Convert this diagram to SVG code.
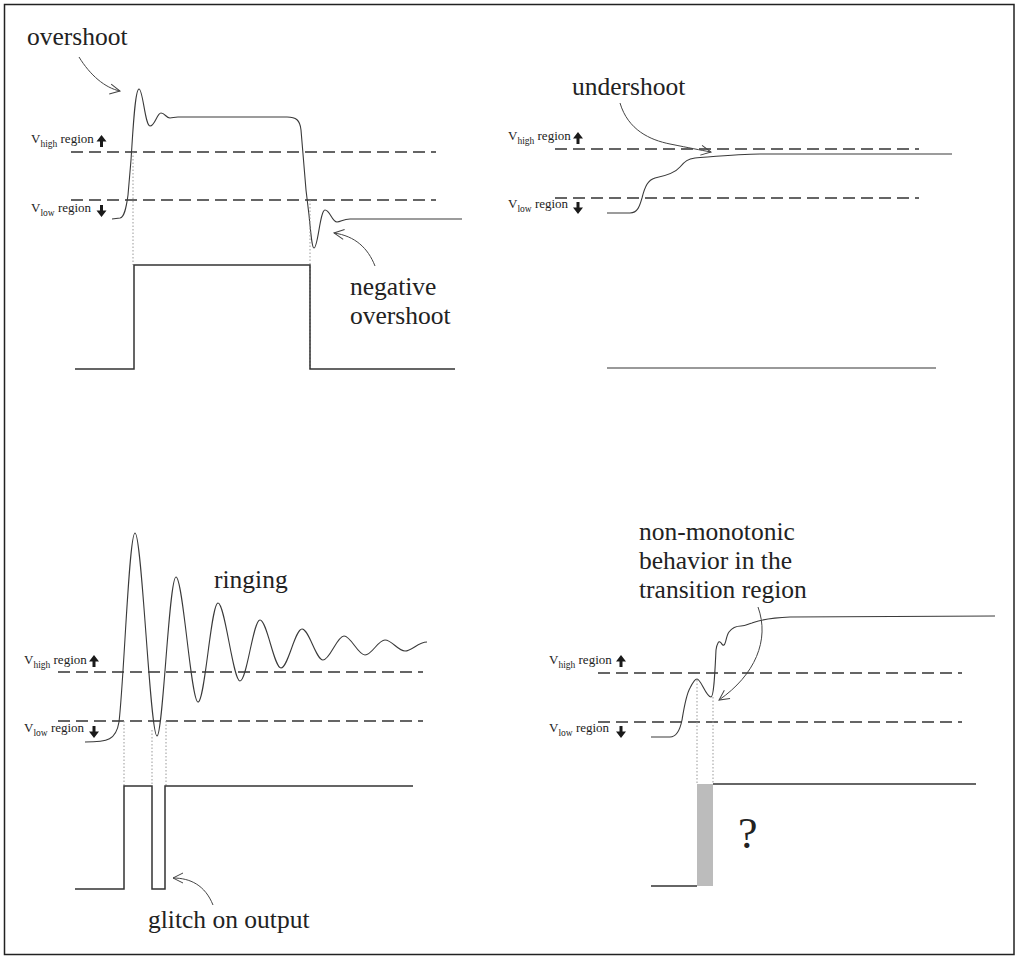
<svg xmlns="http://www.w3.org/2000/svg" width="1018" height="963" viewBox="0 0 1018 963" font-family="Liberation Serif, DejaVu Serif, serif">
<style>
text{font-family:'Liberation Serif','DejaVu Serif',serif;fill:#222}
.big{font-size:25.5px}
.lbl{font-size:13px}
.sub{font-size:9.5px}
.wave{fill:none;stroke:#3a3a3a;stroke-width:1.1}
.pulse{fill:none;stroke:#333;stroke-width:1.5}
.dash{fill:none;stroke:#333;stroke-width:1.3;stroke-dasharray:12 6}
.dot{fill:none;stroke:#999;stroke-width:1;stroke-dasharray:1.5 2}
.ann{fill:none;stroke:#444;stroke-width:1;marker-end:url(#open)}
.ar{fill:#1a1a1a}
</style>
<defs>
<marker id="open" viewBox="-12 -7 14 14" markerWidth="14" markerHeight="14" refX="0" refY="0" orient="auto" markerUnits="userSpaceOnUse">
<path d="M-10,-5 L0,0 L-10,5" fill="none" stroke="#444" stroke-width="1"/>
</marker>
<path id="arrUp" d="M0,0 L5,6.5 L1.5,6.5 L1.5,12 L-1.5,12 L-1.5,6.5 L-5,6.5 Z"/>
<path id="arrDown" d="M0,12 L5,5.5 L1.5,5.5 L1.5,0 L-1.5,0 L-1.5,5.5 L-5,5.5 Z"/>
</defs>
<rect x="4.5" y="4.5" width="1009.5" height="950" fill="#fff" stroke="#222" stroke-width="1.5"/>

<g id="panel-overshoot">
<text class="big" x="27" y="45">overshoot</text>
<text class="big" x="350" y="295">negative</text>
<text class="big" x="350" y="324">overshoot</text>
<text class="lbl" x="31" y="143">V<tspan class="sub" dy="4">high</tspan><tspan dy="-4"> region</tspan></text>
<use href="#arrUp" class="ar" x="101.5" y="135"/>
<text class="lbl" x="31" y="212">V<tspan class="sub" dy="4">low</tspan><tspan dy="-4"> region</tspan></text>
<use href="#arrDown" class="ar" x="101.5" y="205"/>
<line class="dash" x1="71" y1="152" x2="436" y2="152"/>
<line class="dash" x1="71" y1="200" x2="436" y2="200"/>
<path class="wave" d="M112,219 L120,218 C124,217 126,210 128,195 L131,160 C133,130 135,89 139,89 C143,89 145,126 150,126 C155,126 157,113 161,113 C165,113 166,118 170,118 C173,118 174,117 178,117 L287,117 C296,117 300,120 301,130 L306,190 L309,215 C311,235 312,248 314,248 C318,248 320,210 325,210 C330,210 332,222 337,222 C341,222 343,219 350,219 L462,219"/>
<line class="dot" x1="133" y1="152" x2="133" y2="265"/>
<line class="dot" x1="310" y1="200" x2="310" y2="369"/>
<path class="pulse" d="M75,369 L134,369 L134,265 L310,265 L310,369 L455,369"/>
</g>

<g id="panel-undershoot">
<text class="big" x="572" y="95">undershoot</text>
<text class="lbl" x="508" y="140">V<tspan class="sub" dy="4">high</tspan><tspan dy="-4"> region</tspan></text>
<use href="#arrUp" class="ar" x="578" y="132"/>
<text class="lbl" x="508" y="208">V<tspan class="sub" dy="4">low</tspan><tspan dy="-4"> region</tspan></text>
<use href="#arrDown" class="ar" x="578" y="202"/>
<line class="dash" x1="555" y1="149" x2="919" y2="149"/>
<line class="dash" x1="555" y1="198" x2="919" y2="198"/>
<path class="wave" d="M607,213 L630,213 C638,213 640,205 642,198 C645,186 648,180 655,178 C665,176 675,173 680,167 C685,161 688,159 695,158 C720,156 740,154 760,154 L952,154"/>
<line x1="607" y1="368" x2="936" y2="368" stroke="#777" stroke-width="1.5"/>
</g>

<g id="panel-ringing">
<text class="big" x="214" y="588">ringing</text>
<text class="big" x="148" y="928">glitch on output</text>
<text class="lbl" x="24" y="664">V<tspan class="sub" dy="4">high</tspan><tspan dy="-4"> region</tspan></text>
<use href="#arrUp" class="ar" x="94" y="655"/>
<text class="lbl" x="24" y="732">V<tspan class="sub" dy="4">low</tspan><tspan dy="-4"> region</tspan></text>
<use href="#arrDown" class="ar" x="94" y="726"/>
<line class="dash" x1="58" y1="672" x2="423" y2="672"/>
<line class="dash" x1="58" y1="721" x2="423" y2="721"/>
<path class="wave" d="M85,742 C108,742 116,740 119,722 C124,680 129,533 135,533 C142,533 150,736 157,736 C163,736 169,577 176,577 C183,577 191,702 198,702 C205,702 211,603 218,603 C225,603 233,681 240,681 C247,681 253,620 260,620 C267,620 274,668 281,668 C288,668 295,629 302,629 C309,629 316,660 323,660 C330,660 337,636 344,636 C351,636 358,655 365,655 C372,655 378,640 385,640 C392,640 398,651 405,651 C412,651 418,642 427,642"/>
<line class="dot" x1="124" y1="721" x2="124" y2="786"/>
<line class="dot" x1="152" y1="730" x2="152" y2="786"/>
<line class="dot" x1="166" y1="721" x2="166" y2="786"/>
<path class="pulse" d="M75,889 L124,889 L124,786 L152,786 L152,889 L165,889 L165,786 L413,786"/>
</g>

<g id="panel-nonmonotonic">
<text class="big" x="639" y="540">non-monotonic</text>
<text class="big" x="639" y="569">behavior in the</text>
<text class="big" x="639" y="598">transition region</text>
<text class="lbl" x="549" y="664">V<tspan class="sub" dy="4">high</tspan><tspan dy="-4"> region</tspan></text>
<use href="#arrUp" class="ar" x="621" y="655"/>
<text class="lbl" x="549" y="732">V<tspan class="sub" dy="4">low</tspan><tspan dy="-4"> region</tspan></text>
<use href="#arrDown" class="ar" x="621" y="726"/>
<line class="dash" x1="598" y1="673" x2="962" y2="673"/>
<line class="dash" x1="598" y1="722" x2="962" y2="722"/>
<path class="wave" d="M651,737 L670,737 C677,737 680,730 682,720 C684,708 686,695 690,688 C693,682 695,679 697,679 C701,679 706,697 711,697 C714,697 715,670 716,650 C717,643 719,641 720,642 C722,643 722,646 724,645 C726,644 726,636 729,632 C732,628 736,626 741,626 C746,626 748,624 752,623 C758,621 765,618 790,617 L995,616"/>
<line class="dot" x1="697" y1="680" x2="697" y2="784"/>
<line class="dot" x1="713" y1="697" x2="713" y2="784"/>
<rect x="697" y="784" width="16" height="102" fill="#bcbcbc"/>
<path class="pulse" d="M651,886 L697,886"/>
<path class="pulse" d="M713,784 L976,784"/>
<text x="738" y="848" font-size="44">?</text>
</g>

<g id="connectors">
<path class="ann" d="M79,57 C90,75 105,88 120,91"/>
<path class="ann" d="M375,266 C368,248 355,236 334,233"/>
<path class="ann" d="M620,103 C628,130 650,140 670,144 C690,148 700,150 711,152"/>
<path class="ann" d="M213,905 C205,885 190,878 173,878"/>
<path class="ann" d="M758,607 C770,640 755,675 719,700"/>
</g>
</svg>
